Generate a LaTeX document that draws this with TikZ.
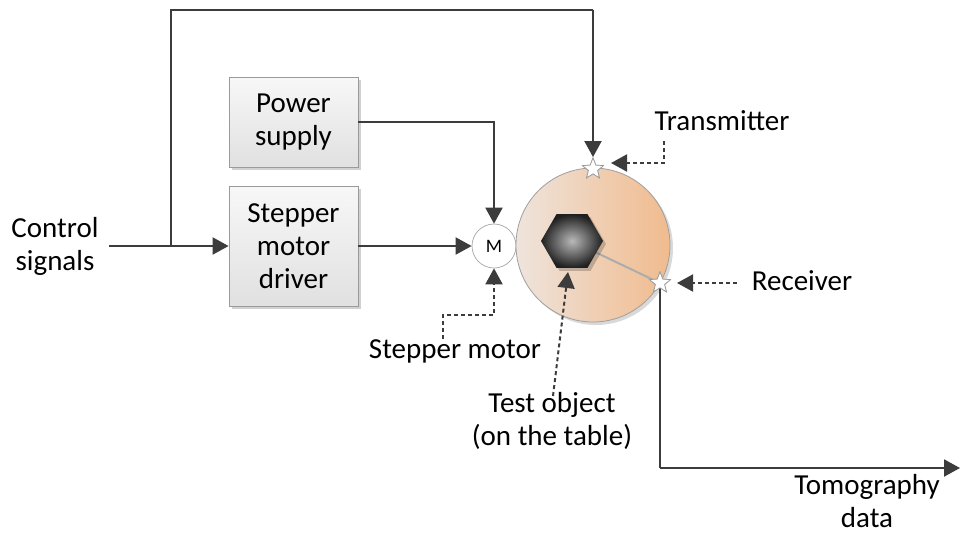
\documentclass[tikz,border=0pt]{standalone}
\usepackage{fontspec}
\setmainfont{Carlito}
\usetikzlibrary{arrows.meta,shapes.geometric,shadows}
\definecolor{ln}{HTML}{3C3C3C}
\definecolor{bxborder}{HTML}{9A9A9A}
\definecolor{tblL}{HTML}{EFE4DC}
\definecolor{tblR}{HTML}{F0BB8E}
\begin{document}
\begin{tikzpicture}[x=1pt,y=-1pt,
  txt/.style={font=\fontsize{29}{33}\selectfont, align=center, inner sep=0pt, text=black},
  box/.style={draw=bxborder, line width=0.8pt, top color=white!97!black, bottom color=white!88!black,
    minimum width=129pt, inner sep=0pt, txt,
    drop shadow={shadow xshift=3pt, shadow yshift=-3pt, opacity=0.18, fill=black}},
  conn/.style={draw=ln, line width=2pt, -{Triangle[length=16pt,width=17pt]}},
  plain/.style={draw=ln, line width=2pt},
  dconn/.style={draw=ln, line width=2pt, dash pattern=on 4pt off 3pt, -{Triangle[length=16pt,width=17pt]}},
  starnode/.style={star, star points=5, star point ratio=2.3, minimum size=22pt, inner sep=0pt,
    draw=gray!80, fill=white, line width=0.7pt}
]
\useasboundingbox (0,0) rectangle (961,533);

% boxes
\node[box, minimum height=90pt] (ps) at (293.5,122) {Power\\supply};
\node[box, minimum height=120pt] (drv) at (293.5,246) {Stepper\\motor\\driver};

% motor
\node[circle, draw=gray!70, fill=white, line width=0.7pt, minimum size=44pt, inner sep=0pt,
  font=\fontsize{19}{19}\selectfont] (M) at (494,246) {M};

% table
\node[circle, draw=gray!75, line width=0.8pt, minimum size=154pt, inner sep=0pt,
  left color=tblL, right color=tblR,
  drop shadow={shadow xshift=3pt, shadow yshift=-3pt, opacity=0.15, fill=black}] (table) at (593,245) {};

\coordinate (objc) at (572,241);
\coordinate (rxc) at (660,283);
\draw[gray!65, line width=2pt] (objc) -- (rxc);

% test object
\node[regular polygon, regular polygon sides=6, minimum size=62pt, inner sep=0pt,
  inner color=gray!55, outer color=black!88,
  drop shadow={shadow xshift=3pt, shadow yshift=-3pt, opacity=0.2, fill=black}] (obj) at (objc) {};

% labels
\node[txt] (csl) at (55,246) {Control\\signals};
\node[txt] (txl) at (722,121) {Transmitter};
\node[txt] (rxl) at (802,281) {Receiver};
\node[txt] (sml) at (455,351) {Stepper motor};
\node[txt] (tol) at (552,421) {Test object\\(on the table)};
\node[txt] (tdl) at (867,501) {Tomography\\data};

% coordinates
\coordinate (cin) at (109,246);
\coordinate (br) at (171,246);
\coordinate (topc) at (593,9.5);
\coordinate (tcorner) at (660,468);
\coordinate (tend) at (960,468);
\coordinate (txd) at (664,141);
\coordinate (txa) at (611,163);
\coordinate (rxd) at (737,283);
\coordinate (rxa) at (677,283);
\coordinate (smd) at (443,339);
\coordinate (smk) at (494,315);
\coordinate (tod) at (553,396);
\coordinate (toa) at (568,272);

% stars (placed for naming)
\node[starnode] (tx) at (593,169) {};
\node[starnode] (rx) at (rxc) {};

% connectors
\path[conn] (cin) -- (drv.west);
\path[plain] (br) |- (topc);
\path[conn] (topc) -- (tx.north);
\path[conn] (ps.east) -| (M.north);
\path[conn] (drv.east) -- (M.west);
\path[plain] (rx.center) -- (tcorner);
\path[conn] (tcorner) -- (tend);

% dashed pointers
\path[dconn] (txd) |- (txa);
\path[dconn] (rxd) -- (rxa);
\path[dconn] (smd) |- (smk) -- (M.south);
\path[dconn] (tod) -- (toa);

% stars drawn on top
\node[starnode] (rxtop) at (rx) {};
\node[starnode] (txtop) at (tx) {};
\end{tikzpicture}
\end{document}
